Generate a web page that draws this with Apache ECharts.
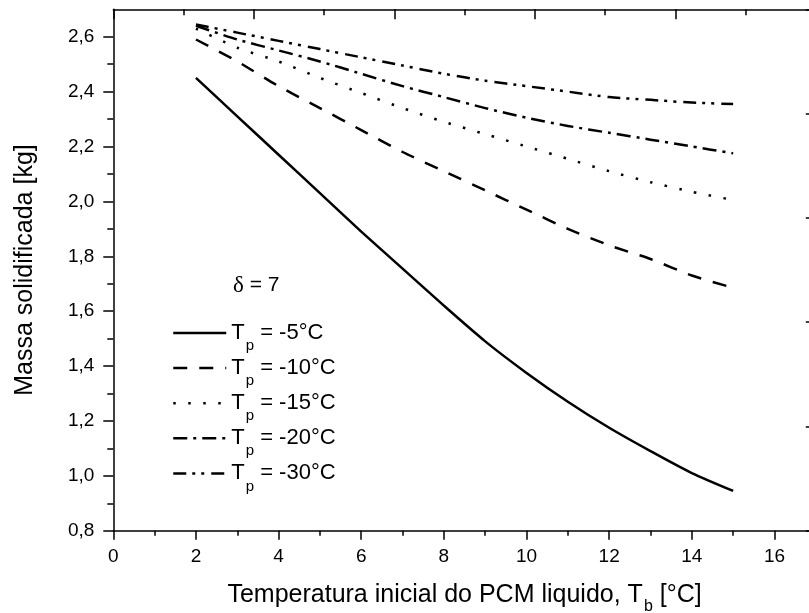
<!DOCTYPE html>
<html>
<head>
<meta charset="utf-8">
<script src="https://cdn.jsdelivr.net/npm/echarts@6/dist/echarts.min.js"></script>
<style>
  html, body { margin: 0; padding: 0; background: #fff; }
  #chart { width: 809px; height: 613px; }
</style>
</head>
<body>
<div id="chart"></div>
<script>
// Initial liquid PCM temperature T_b [°C]
const tb = [2, 3, 4, 5, 6, 7, 8, 9, 10, 11, 12, 13, 14, 15];

// Solidified mass [kg] for each plate temperature T_p (delta = 7)
const massTp5  = [2.45, 2.31, 2.17, 2.03, 1.89, 1.755, 1.62, 1.49, 1.375, 1.27, 1.175, 1.09, 1.01, 0.945];
const massTp10 = [2.59, 2.51, 2.42, 2.34, 2.26, 2.18, 2.11, 2.04, 1.97, 1.90, 1.84, 1.79, 1.73, 1.685];
const massTp15 = [2.63, 2.56, 2.51, 2.45, 2.395, 2.34, 2.29, 2.245, 2.20, 2.155, 2.11, 2.07, 2.035, 2.005];
const massTp20 = [2.64, 2.59, 2.55, 2.51, 2.465, 2.42, 2.38, 2.34, 2.305, 2.275, 2.25, 2.225, 2.20, 2.175];
const massTp30 = [2.645, 2.615, 2.585, 2.555, 2.525, 2.495, 2.465, 2.44, 2.42, 2.40, 2.38, 2.37, 2.36, 2.355];

const seriesNames = ['-5°C', '-10°C', '-15°C', '-20°C', '-30°C'];

// Tick labels
const xTicks = [0, 2, 4, 6, 8, 10, 12, 14, 16];
const yTicks = [0.8, 1.0, 1.2, 1.4, 1.6, 1.8, 2.0, 2.2, 2.4, 2.6];

const FONT = 'Liberation Sans';
const BLACK = '#000';

const pairs = (xs, ys) => xs.map((x, i) => [x, ys[i]]);

// Line patterns: solid, dash, dot, dash-dot, dash-dot-dot
const dashStyles = [
  'solid',
  [14, 12],
  [2.5, 12.5],
  [14, 6, 3, 6],
  [13, 6, 3, 6, 3, 7]
];
const seriesValues = [massTp5, massTp10, massTp15, massTp20, massTp30];

const axisLine = { show: true, onZero: false, lineStyle: { color: BLACK, width: 1.5 } };
const tickLine = { color: BLACK, width: 1.5 };

const chart = echarts.init(document.getElementById('chart'), null, { renderer: 'canvas' });

chart.setOption({
  animation: false,
  backgroundColor: '#fff',
  title: {
    text: '{d|\u03b4} = 7',
    left: 228,
    top: 269,
    textStyle: {
      fontFamily: FONT, fontSize: 21, fontWeight: 'normal', color: BLACK,
      rich: { d: { fontFamily: 'Liberation Serif', fontSize: 23, color: BLACK } }
    }
  },
  legend: {
    orient: 'vertical',
    left: 167,
    top: 317,
    itemWidth: 53,
    itemHeight: 14,
    itemGap: 3.6,
    data: seriesNames,
    formatter: (n) => 'T{p|p} = ' + n,
    itemStyle: { opacity: 0 },
    lineStyle: { width: 2.5 },
    textStyle: {
      fontFamily: FONT, fontSize: 22, color: BLACK,
      rich: { p: { fontFamily: FONT, fontSize: 15, color: BLACK, padding: [26, 0, 0, 1] } }
    }
  },
  grid: {
    left: 113.3,
    top: 9.3,
    width: 702.5,
    height: 521.4,
    containLabel: false,
    outerBoundsMode: 'none'
  },
  xAxis: [
    {
      type: 'value',
      position: 'bottom',
      min: 0, max: 17, interval: 2,
      axisLine: axisLine,
      axisTick: { show: true, inside: false, length: 9, customValues: xTicks, lineStyle: tickLine },
      minorTick: { show: true, splitNumber: 2, length: 5, lineStyle: tickLine },
      splitLine: { show: false },
      minorSplitLine: { show: false },
      axisLabel: {
        customValues: xTicks,
        margin: 17,
        fontFamily: FONT, fontSize: 19, color: BLACK
      },
      name: 'Temperatura inicial do PCM liquido, T{b|b} [°C]',
      nameLocation: 'middle',
      nameGap: 45,
      nameTextStyle: {
        fontFamily: FONT, fontSize: 25, color: BLACK,
        rich: { b: { fontFamily: FONT, fontSize: 16, color: BLACK, padding: [23, 0, 0, 1] } }
      }
    },
    {
      type: 'value',
      position: 'top',
      min: 0, max: 5, interval: 1,
      axisLine: axisLine,
      axisTick: { show: true, inside: true, length: 10, lineStyle: tickLine },
      minorTick: { show: true, splitNumber: 2, length: 6, lineStyle: tickLine },
      axisLabel: { show: false },
      splitLine: { show: false }
    }
  ],
  yAxis: [
    {
      type: 'value',
      position: 'left',
      min: 0.8, max: 2.7, interval: 0.2,
      axisLine: axisLine,
      axisTick: { show: true, inside: false, length: 10, customValues: yTicks, lineStyle: tickLine },
      minorTick: { show: true, splitNumber: 2, length: 6, lineStyle: tickLine },
      splitLine: { show: false },
      minorSplitLine: { show: false },
      axisLabel: {
        customValues: yTicks,
        margin: 19,
        fontFamily: FONT, fontSize: 19, color: BLACK,
        formatter: (v) => v.toFixed(1).replace('.', ',')
      },
      name: 'Massa solidificada [kg]',
      nameLocation: 'middle',
      nameGap: 76,
      nameTextStyle: { fontFamily: FONT, fontSize: 25, color: BLACK }
    },
    {
      type: 'value',
      position: 'right',
      min: 0, max: 5, interval: 1,
      axisLine: axisLine,
      axisTick: { show: true, inside: true, length: 10, lineStyle: tickLine },
      axisLabel: { show: false },
      splitLine: { show: false }
    }
  ],
  series: seriesNames.map((name, i) => ({
    name: name,
    type: 'line',
    xAxisIndex: 0,
    yAxisIndex: 0,
    data: pairs(tb, seriesValues[i]),
    symbol: 'none',
    smooth: 0.25,
    silent: true,
    lineStyle: { color: BLACK, width: 2.5, type: dashStyles[i], cap: 'butt', join: 'round' }
  }))
});
</script>
</body>
</html>
